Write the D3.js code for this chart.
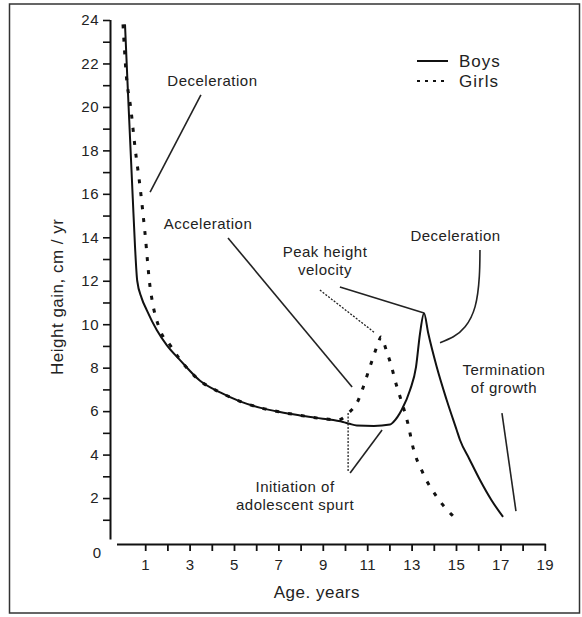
<!DOCTYPE html>
<html><head><meta charset="utf-8">
<script src="https://cdn.jsdelivr.net/npm/d3@7"></script>
<style>
body{margin:0;background:#fff}
svg{display:block}
text{font-family:"Liberation Sans",Arial,Helvetica,sans-serif;fill:#222}
</style>
</head><body>
<svg id="c" width="582" height="617"></svg>
<script>
// ---- data (age in years, height gain in cm/yr) ----
const boysAge  = [0.09,0.2,0.32,0.44,0.54,0.64,0.84,1.07,1.52,1.97,2.57,3.47,4.4,5.27,6.2,7.07,8.0,9.0,9.91,10.2,10.53,11.3,12.03,12.18,12.55,12.93,13.2,13.38,13.56,13.75,14.13,14.58,15.03,15.18,15.6,16.08,16.6,17.12];
const boysGain = [23.8,21.2,18.5,15.8,13.6,12.0,11.2,10.65,9.73,9.04,8.35,7.4,6.85,6.45,6.15,5.96,5.8,5.65,5.5,5.42,5.34,5.32,5.38,5.5,6.05,6.97,8.04,9.58,10.5,9.58,8.04,6.51,5.13,4.67,3.8,2.83,1.9,1.13];
const girlsAge  = [0.0,0.14,0.36,0.54,0.77,0.99,1.22,1.31,1.67,2.12,2.6,3.47,4.4,5.27,6.2,7.07,8.0,9.0,9.7,10.15,10.6,10.82,11.05,11.27,11.5,11.62,11.88,12.1,12.25,12.48,12.85,13.06,13.51,14.14,15.05];
const girlsGain = [23.8,21.56,19.86,18.15,16.31,14.2,11.71,11.11,9.73,9.04,8.33,7.4,6.85,6.45,6.15,5.96,5.8,5.65,5.6,5.9,6.51,7.1,7.81,8.48,9.15,9.41,8.73,8.04,7.43,6.66,5.36,4.35,3.15,2.05,0.99];
const xTickValues = [1,2,3,4,5,6,7,8,9,10,11,12,13,14,15,16,17,18,19];
const xTickLabels = [1,3,5,7,9,11,13,15,17,19];
const yTickValues = [1,2,3,4,5,6,7,8,9,10,11,12,13,14,15,16,17,18,19,20,21,22,23,24];
const yTickLabels = [2,4,6,8,10,12,14,16,18,20,22,24];
const seriesNames = ["Boys","Girls"];

// annotation texts anchored in data units (age, gain)
const noteTexts = [
  {lines:["Deceleration"], age:4.03, gain:20.96},
  {lines:["Acceleration"], age:3.83, gain:14.38},
  {lines:["Peak height","velocity"], age:9.1, gain:13.09},
  {lines:["Deceleration"], age:14.98, gain:13.83},
  {lines:["Termination","of growth"], age:17.16, gain:7.66},
  {lines:["Initiation of","adolescent spurt"], age:7.75, gain:2.28}
];
// leader lines in data units
const leaders = [
  {pts:[[3.51,20.55],[1.22,16.08]], dotted:false},
  {pts:[[4.73,13.97],[10.32,7.11]], dotted:false},
  {pts:[[9.77,11.71],[13.56,10.52]], dotted:false},
  {pts:[[8.87,11.57],[11.35,9.6]], dotted:true},
  {pts:[[16.08,13.41],[16.05,12.19],[15.86,10.81],[15.41,9.88],[14.88,9.42],[14.28,9.15]], dotted:false, curved:true},
  {pts:[[17.07,5.91],[17.7,1.4]], dotted:false},
  {pts:[[10.14,5.91],[10.14,3.2]], dotted:true},
  {pts:[[10.23,3.15],[11.67,5.13]], dotted:false}
];

const svg = d3.select("#c");
const x = d3.scaleLinear().domain([0,19]).range([123,544.8]);
const y = d3.scaleLinear().domain([0,24]).range([541.5,20]);

// frame
svg.append("rect").attr("x",9.5).attr("y",4).attr("width",570).attr("height",609)
  .attr("fill","none").attr("stroke","#333").attr("stroke-width",1.5);

// y axis
const yAx = svg.append("g").attr("transform","translate(110,0)")
  .call(d3.axisLeft(y).tickValues(yTickValues).tickSize(7).tickSizeOuter(0).tickPadding(4)
    .tickFormat(d => yTickLabels.includes(d) ? d : ""));
yAx.attr("font-family",null).attr("font-size",null);
yAx.select(".domain").attr("stroke","#111").attr("stroke-width",2)
  .attr("d",`M0.5,${y(0)-2}V${y(24)}`);
yAx.selectAll(".tick line").attr("stroke","#111").attr("stroke-width",1.6);
yAx.selectAll(".tick text").style("font-size","15px").style("letter-spacing","0.5px").attr("fill","#222");

// x axis
const xAx = svg.append("g").attr("transform",`translate(0,${y(0)+2.5})`)
  .call(d3.axisBottom(x).tickValues(xTickValues).tickSize(7).tickSizeOuter(0).tickPadding(8)
    .tickFormat(d => xTickLabels.includes(d) ? d : ""));
xAx.attr("font-family",null).attr("font-size",null);
xAx.select(".domain").attr("stroke","#111").attr("stroke-width",2.2)
  .attr("d",`M${x(0)-6},0.5H${x(19)+1}`);
xAx.selectAll(".tick line").attr("stroke","#111").attr("stroke-width",1.8);
xAx.selectAll(".tick text").style("font-size","15px").style("letter-spacing","0.5px").attr("fill","#222");

// origin "0"
svg.append("text").attr("x",x(0)-26).attr("y",y(0)+16).attr("text-anchor","middle")
  .style("font-size","15px").text("0");

// axis titles
svg.append("text").attr("transform",`translate(63,${(y(0)+y(24))/2+16}) rotate(-90)`)
  .attr("text-anchor","middle").style("font-size","17px").style("letter-spacing","0.5px")
  .text("Height gain, cm / yr");
svg.append("text").attr("x",(x(0)+x(19))/2-17).attr("y",598).attr("text-anchor","middle")
  .style("font-size","17px").style("letter-spacing","0.5px").text("Age. years");

// curves
const line = d3.line().x(d=>x(d[0])).y(d=>y(d[1])).curve(d3.curveMonotoneX);
const boys = boysAge.map((a,i)=>[a,boysGain[i]]);
const girls = girlsAge.map((a,i)=>[a,girlsGain[i]]);
svg.append("path").datum(girls).attr("d",line).attr("fill","none")
  .attr("stroke","#111").attr("stroke-width",3).attr("stroke-dasharray","4,9");
svg.append("path").datum(boys).attr("d",line).attr("fill","none")
  .attr("stroke","#111").attr("stroke-width",2);

// leaders
const lLin = d3.line().x(d=>x(d[0])).y(d=>y(d[1]));
const lCur = d3.line().x(d=>x(d[0])).y(d=>y(d[1])).curve(d3.curveNatural);
leaders.forEach(l=>{
  svg.append("path").attr("d",(l.curved?lCur:lLin)(l.pts)).attr("fill","none")
    .attr("stroke","#222").attr("stroke-width",l.dotted?1.3:1.6)
    .attr("stroke-dasharray",l.dotted?"2,1.5":null);
});

// annotation texts
noteTexts.forEach(n=>{
  n.lines.forEach((t,i)=>{
    svg.append("text").attr("x",x(n.age)).attr("y",y(n.gain)+i*18)
      .attr("text-anchor","middle").style("font-size","15px").style("letter-spacing","0.5px").text(t);
  });
});

// legend
const lg = svg.append("g").attr("transform","translate(417,61)");
seriesNames.forEach((s,i)=>{
  lg.append("line").attr("x1",0).attr("x2",31).attr("y1",i*20).attr("y2",i*20)
    .attr("stroke","#111").attr("stroke-width",i? 2.2:2).attr("stroke-dasharray",i?"3,5":null);
  lg.append("text").attr("x",42).attr("y",i*20+6).style("font-size","17px").style("letter-spacing","1px").text(s);
});
</script>
</body></html>
